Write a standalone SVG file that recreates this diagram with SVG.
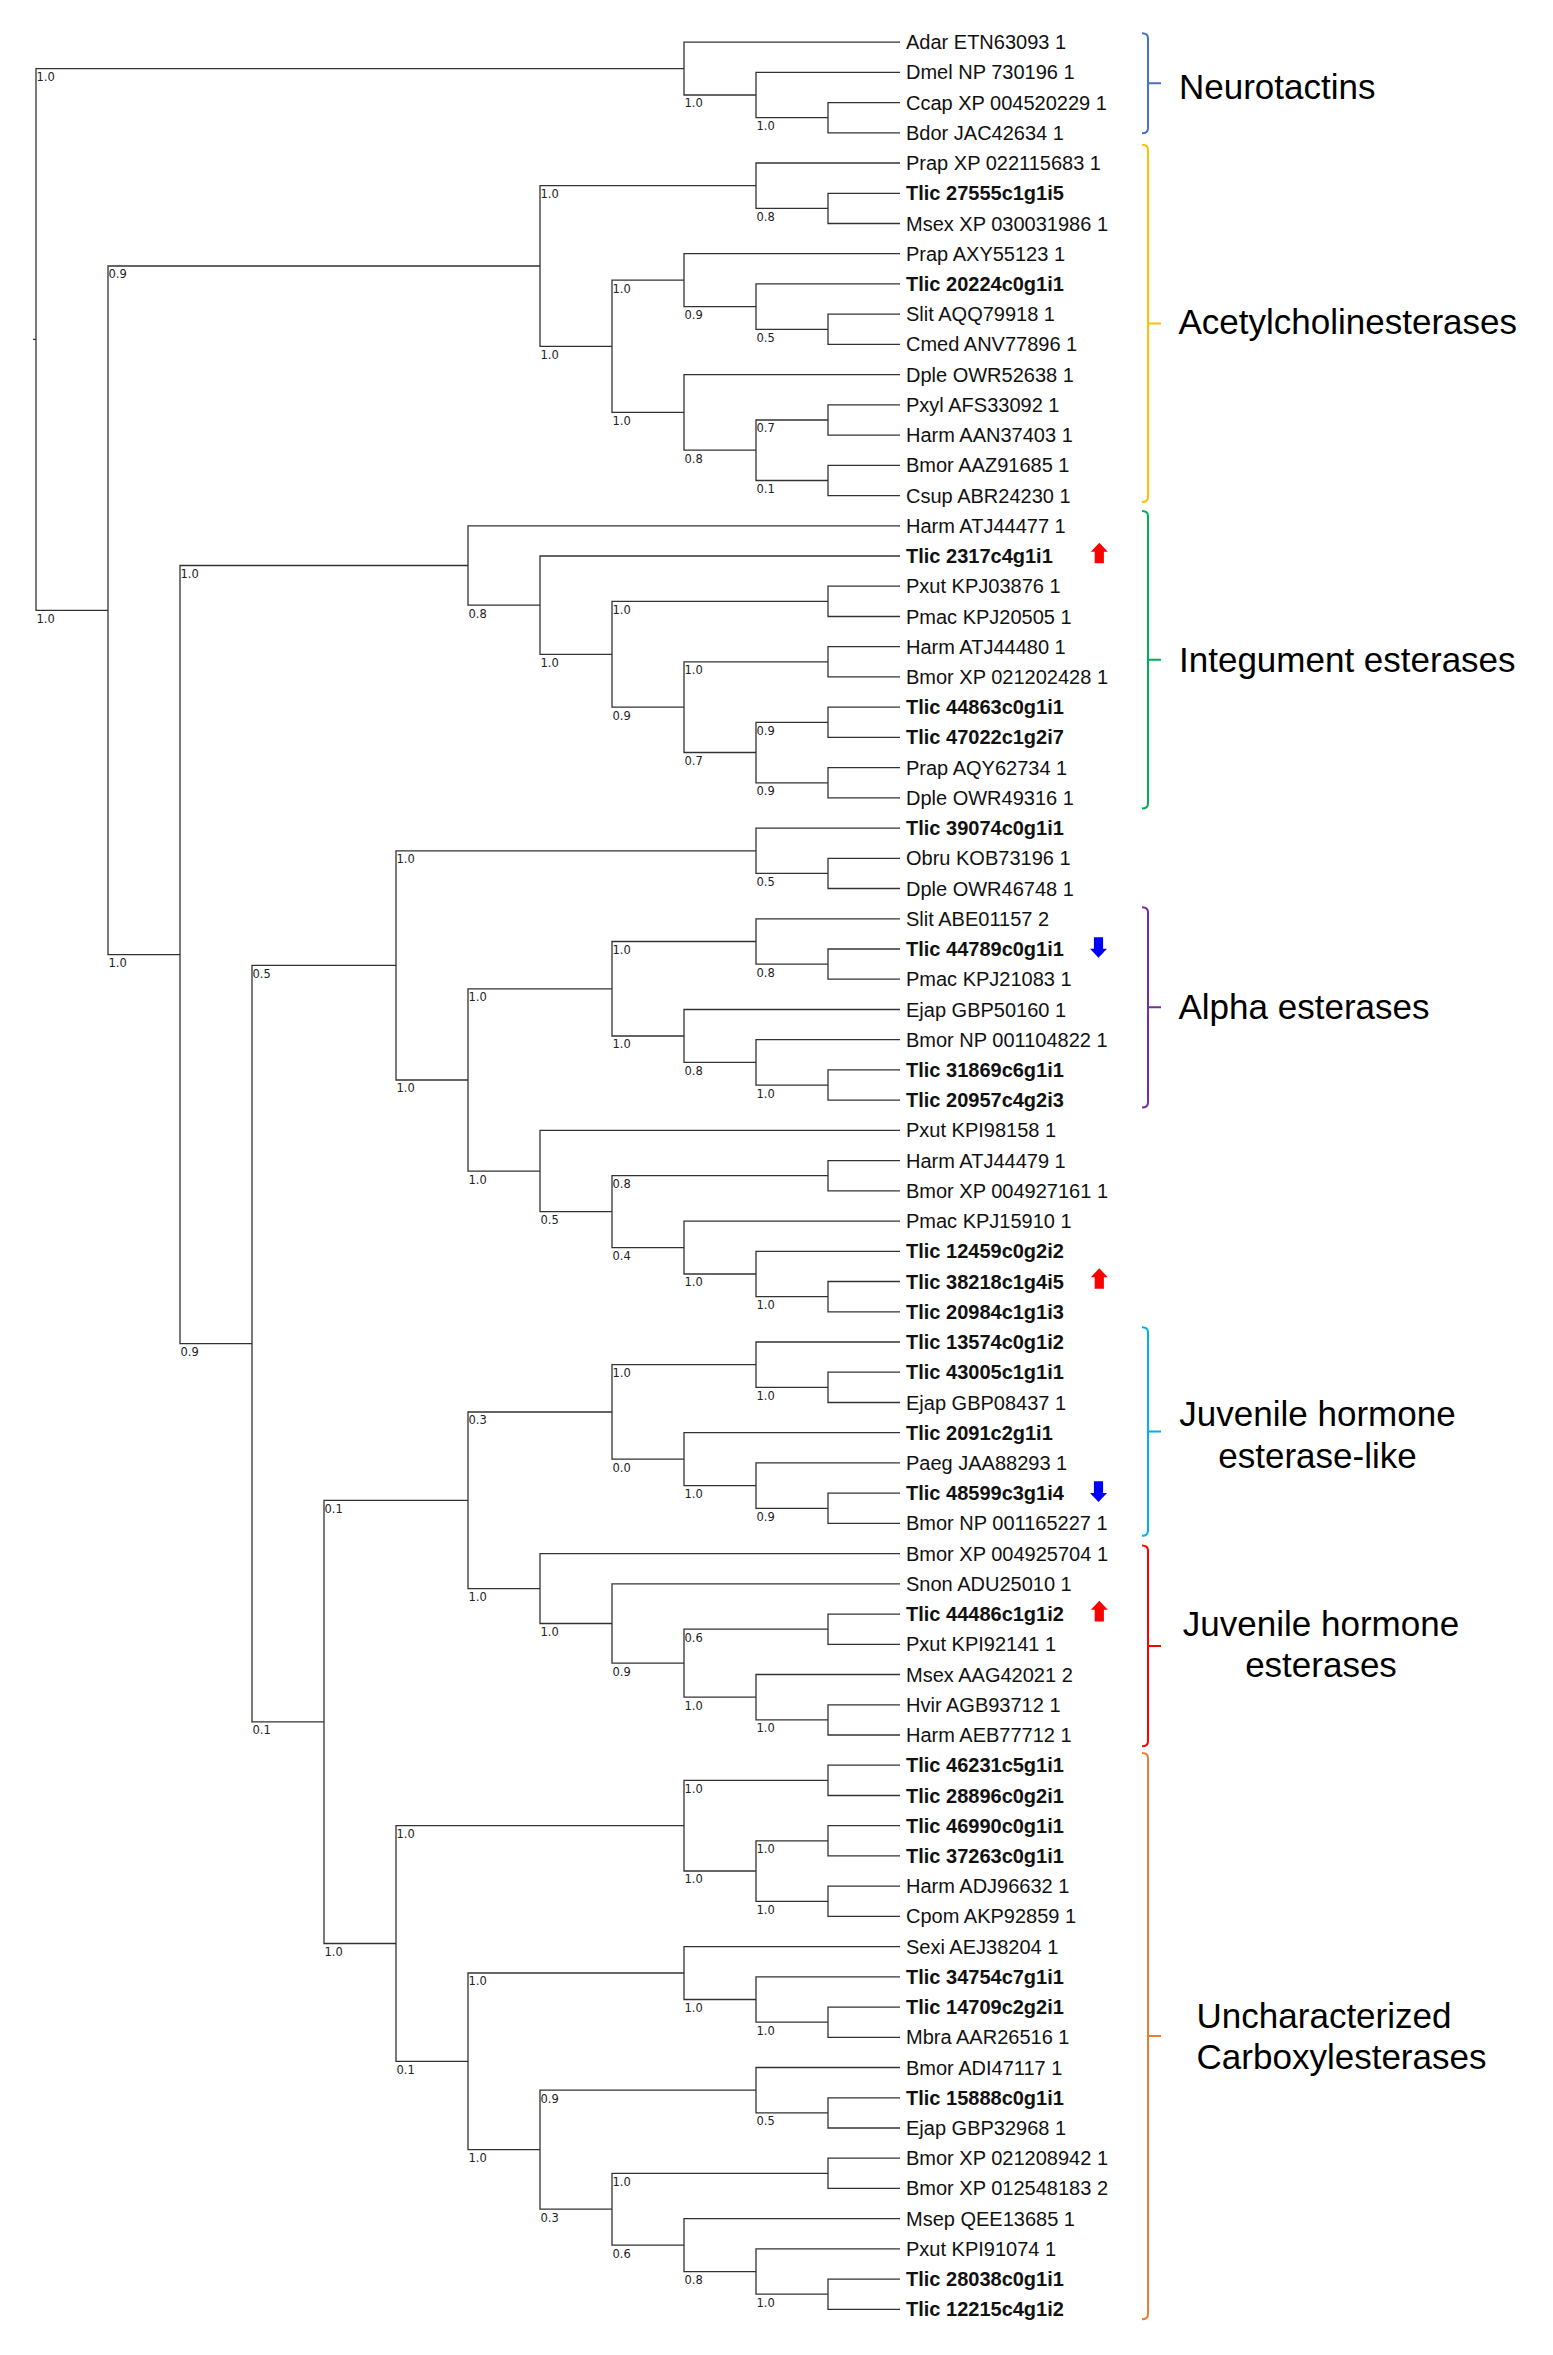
<svg xmlns="http://www.w3.org/2000/svg" xmlns:xlink="http://www.w3.org/1999/xlink" width="1553" height="2355" viewBox="0 0 1553 2355">
<style>
.br{fill:none;stroke:#333;stroke-width:1.3}
.lf{font-family:"Liberation Sans",Arial,sans-serif;font-size:20px;fill:#111}
.b{font-weight:bold}
.sv{font-family:"DejaVu Sans",Verdana,sans-serif;font-size:11.5px;fill:#222}
.cl{font-family:"Liberation Sans",Arial,sans-serif;font-size:35px;fill:#000}
.mid{text-anchor:middle}
.bk{fill:none;stroke-width:2}
.up{fill:#ff0000}
.dn{fill:#0000ff}
</style>
<defs>
<path id="arrow" d="M0,-10.3 L8.5,-1.3 L4.6,-1.3 L4.6,10.3 L-4.6,10.3 L-4.6,-1.3 L-8.5,-1.3 Z"/>
</defs>
<rect width="1553" height="2355" fill="#fff"/>

<g id="connectors" class="br">
<path d="M33 339.4H36"/>
<path d="M684 68.6H36V610.3H108"/>
<path d="M900 42.1H684V95H756"/>
<path d="M900 72.3H756V117.7H828"/>
<path d="M900 102.6H828V132.8H900"/>
<path d="M540 266H108V954.6H180"/>
<path d="M756 185.7H540V346.3H612"/>
<path d="M900 163H756V208.4H828"/>
<path d="M900 193.3H828V223.5H900"/>
<path d="M684 280.2H612V412.4H684"/>
<path d="M900 253.7H684V306.6H756"/>
<path d="M900 283.9H756V329.3H828"/>
<path d="M900 314.2H828V344.4H900"/>
<path d="M900 374.6H684V450.2H756"/>
<path d="M828 420H756V480.5H828"/>
<path d="M900 404.9H828V435.1H900"/>
<path d="M900 465.3H828V495.6H900"/>
<path d="M468 565.5H180V1343.7H252"/>
<path d="M900 525.8H468V605.2H540"/>
<path d="M900 556H540V654.3H612"/>
<path d="M828 601.4H612V707.2H684"/>
<path d="M900 586.2H828V616.5H900"/>
<path d="M828 661.8H684V752.5H756"/>
<path d="M900 646.7H828V676.9H900"/>
<path d="M828 722.3H756V782.8H828"/>
<path d="M900 707.2H828V737.4H900"/>
<path d="M900 767.6H828V797.9H900"/>
<path d="M396 965.4H252V1721.9H324"/>
<path d="M756 850.8H396V1080H468"/>
<path d="M900 828.1H756V873.4H828"/>
<path d="M900 858.3H828V888.5H900"/>
<path d="M612 988.8H468V1171.1H540"/>
<path d="M756 941.5H612V1036H684"/>
<path d="M900 918.8H756V964.1H828"/>
<path d="M900 949H828V979.2H900"/>
<path d="M900 1009.5H684V1062.4H756"/>
<path d="M900 1039.7H756V1085.1H828"/>
<path d="M900 1069.9H828V1100.2H900"/>
<path d="M900 1130.4H540V1211.7H612"/>
<path d="M828 1175.7H612V1247.6H684"/>
<path d="M900 1160.6H828V1190.8H900"/>
<path d="M900 1221.1H684V1274H756"/>
<path d="M900 1251.3H756V1296.7H828"/>
<path d="M900 1281.5H828V1311.8H900"/>
<path d="M468 1500.3H324V1943.5H396"/>
<path d="M612 1412H468V1588.6H540"/>
<path d="M756 1364.7H612V1459.2H684"/>
<path d="M900 1342H756V1387.4H828"/>
<path d="M900 1372.2H828V1402.5H900"/>
<path d="M900 1432.7H684V1485.6H756"/>
<path d="M900 1462.9H756V1508.3H828"/>
<path d="M900 1493.1H828V1523.4H900"/>
<path d="M900 1553.6H540V1623.5H612"/>
<path d="M900 1583.8H612V1663.2H684"/>
<path d="M828 1629.2H684V1697.2H756"/>
<path d="M900 1614.1H828V1644.3H900"/>
<path d="M900 1674.5H756V1719.9H828"/>
<path d="M900 1704.8H828V1735H900"/>
<path d="M684 1825.7H396V2061.3H468"/>
<path d="M828 1780.4H684V1871H756"/>
<path d="M900 1765.2H828V1795.5H900"/>
<path d="M828 1840.8H756V1901.3H828"/>
<path d="M900 1825.7H828V1855.9H900"/>
<path d="M900 1886.1H828V1916.4H900"/>
<path d="M684 1973H468V2149.7H540"/>
<path d="M900 1946.6H684V1999.5H756"/>
<path d="M900 1976.8H756V2022.2H828"/>
<path d="M900 2007.1H828V2037.3H900"/>
<path d="M756 2090.2H540V2209.2H612"/>
<path d="M900 2067.5H756V2112.9H828"/>
<path d="M900 2097.8H828V2128H900"/>
<path d="M828 2173.3H612V2245.1H684"/>
<path d="M900 2158.2H828V2188.4H900"/>
<path d="M900 2218.7H684V2271.6H756"/>
<path d="M900 2248.9H756V2294.2H828"/>
<path d="M900 2279.1H828V2309.4H900"/>
</g>

<g id="support-values" class="sv">
<text x="36.5" y="81">1.0</text>
<text x="36.5" y="622.7">1.0</text>
<text x="684.5" y="107.4">1.0</text>
<text x="756.5" y="130.1">1.0</text>
<text x="108.5" y="278.4">0.9</text>
<text x="108.5" y="967">1.0</text>
<text x="540.5" y="198.1">1.0</text>
<text x="540.5" y="358.7">1.0</text>
<text x="756.5" y="220.8">0.8</text>
<text x="612.5" y="292.6">1.0</text>
<text x="612.5" y="424.8">1.0</text>
<text x="684.5" y="319">0.9</text>
<text x="756.5" y="341.7">0.5</text>
<text x="684.5" y="462.6">0.8</text>
<text x="756.5" y="432.4">0.7</text>
<text x="756.5" y="492.9">0.1</text>
<text x="180.5" y="577.9">1.0</text>
<text x="180.5" y="1356.1">0.9</text>
<text x="468.5" y="617.6">0.8</text>
<text x="540.5" y="666.7">1.0</text>
<text x="612.5" y="613.8">1.0</text>
<text x="612.5" y="719.6">0.9</text>
<text x="684.5" y="674.2">1.0</text>
<text x="684.5" y="764.9">0.7</text>
<text x="756.5" y="734.7">0.9</text>
<text x="756.5" y="795.2">0.9</text>
<text x="252.5" y="977.8">0.5</text>
<text x="252.5" y="1734.3">0.1</text>
<text x="396.5" y="863.2">1.0</text>
<text x="396.5" y="1092.4">1.0</text>
<text x="756.5" y="885.8">0.5</text>
<text x="468.5" y="1001.2">1.0</text>
<text x="468.5" y="1183.5">1.0</text>
<text x="612.5" y="953.9">1.0</text>
<text x="612.5" y="1048.4">1.0</text>
<text x="756.5" y="976.5">0.8</text>
<text x="684.5" y="1074.8">0.8</text>
<text x="756.5" y="1097.5">1.0</text>
<text x="540.5" y="1224.1">0.5</text>
<text x="612.5" y="1188.1">0.8</text>
<text x="612.5" y="1260">0.4</text>
<text x="684.5" y="1286.4">1.0</text>
<text x="756.5" y="1309.1">1.0</text>
<text x="324.5" y="1512.7">0.1</text>
<text x="324.5" y="1955.9">1.0</text>
<text x="468.5" y="1424.4">0.3</text>
<text x="468.5" y="1601">1.0</text>
<text x="612.5" y="1377.1">1.0</text>
<text x="612.5" y="1471.6">0.0</text>
<text x="756.5" y="1399.8">1.0</text>
<text x="684.5" y="1498">1.0</text>
<text x="756.5" y="1520.7">0.9</text>
<text x="540.5" y="1635.9">1.0</text>
<text x="612.5" y="1675.6">0.9</text>
<text x="684.5" y="1641.6">0.6</text>
<text x="684.5" y="1709.6">1.0</text>
<text x="756.5" y="1732.3">1.0</text>
<text x="396.5" y="1838.1">1.0</text>
<text x="396.5" y="2073.7">0.1</text>
<text x="684.5" y="1792.8">1.0</text>
<text x="684.5" y="1883.4">1.0</text>
<text x="756.5" y="1853.2">1.0</text>
<text x="756.5" y="1913.7">1.0</text>
<text x="468.5" y="1985.4">1.0</text>
<text x="468.5" y="2162.1">1.0</text>
<text x="684.5" y="2011.9">1.0</text>
<text x="756.5" y="2034.6">1.0</text>
<text x="540.5" y="2102.6">0.9</text>
<text x="540.5" y="2221.6">0.3</text>
<text x="756.5" y="2125.3">0.5</text>
<text x="612.5" y="2185.7">1.0</text>
<text x="612.5" y="2257.5">0.6</text>
<text x="684.5" y="2284">0.8</text>
<text x="756.5" y="2306.6">1.0</text>
</g>

<g id="leaves" class="lf">
<g id="leaf-01"><text x="906" y="49.1">Adar ETN63093 1</text></g>
<g id="leaf-02"><text x="906" y="79.3">Dmel NP 730196 1</text></g>
<g id="leaf-03"><text x="906" y="109.6">Ccap XP 004520229 1</text></g>
<g id="leaf-04"><text x="906" y="139.8">Bdor JAC42634 1</text></g>
<g id="leaf-05"><text x="906" y="170">Prap XP 022115683 1</text></g>
<g id="leaf-06"><text x="906" y="200.3" class="b">Tlic 27555c1g1i5</text></g>
<g id="leaf-07"><text x="906" y="230.5">Msex XP 030031986 1</text></g>
<g id="leaf-08"><text x="906" y="260.7">Prap AXY55123 1</text></g>
<g id="leaf-09"><text x="906" y="290.9" class="b">Tlic 20224c0g1i1</text></g>
<g id="leaf-10"><text x="906" y="321.2">Slit AQQ79918 1</text></g>
<g id="leaf-11"><text x="906" y="351.4">Cmed ANV77896 1</text></g>
<g id="leaf-12"><text x="906" y="381.6">Dple OWR52638 1</text></g>
<g id="leaf-13"><text x="906" y="411.9">Pxyl AFS33092 1</text></g>
<g id="leaf-14"><text x="906" y="442.1">Harm AAN37403 1</text></g>
<g id="leaf-15"><text x="906" y="472.3">Bmor AAZ91685 1</text></g>
<g id="leaf-16"><text x="906" y="502.6">Csup ABR24230 1</text></g>
<g id="leaf-17"><text x="906" y="532.8">Harm ATJ44477 1</text></g>
<g id="leaf-18"><text x="906" y="563" class="b">Tlic 2317c4g1i1</text><use xlink:href="#arrow" href="#arrow" class="up" transform="translate(1099.3 553)"/></g>
<g id="leaf-19"><text x="906" y="593.2">Pxut KPJ03876 1</text></g>
<g id="leaf-20"><text x="906" y="623.5">Pmac KPJ20505 1</text></g>
<g id="leaf-21"><text x="906" y="653.7">Harm ATJ44480 1</text></g>
<g id="leaf-22"><text x="906" y="683.9">Bmor XP 021202428 1</text></g>
<g id="leaf-23"><text x="906" y="714.2" class="b">Tlic 44863c0g1i1</text></g>
<g id="leaf-24"><text x="906" y="744.4" class="b">Tlic 47022c1g2i7</text></g>
<g id="leaf-25"><text x="906" y="774.6">Prap AQY62734 1</text></g>
<g id="leaf-26"><text x="906" y="804.9">Dple OWR49316 1</text></g>
<g id="leaf-27"><text x="906" y="835.1" class="b">Tlic 39074c0g1i1</text></g>
<g id="leaf-28"><text x="906" y="865.3">Obru KOB73196 1</text></g>
<g id="leaf-29"><text x="906" y="895.5">Dple OWR46748 1</text></g>
<g id="leaf-30"><text x="906" y="925.8">Slit ABE01157 2</text></g>
<g id="leaf-31"><text x="906" y="956" class="b">Tlic 44789c0g1i1</text><use xlink:href="#arrow" href="#arrow" class="dn" transform="translate(1098.5 947.5) rotate(180)"/></g>
<g id="leaf-32"><text x="906" y="986.2">Pmac KPJ21083 1</text></g>
<g id="leaf-33"><text x="906" y="1016.5">Ejap GBP50160 1</text></g>
<g id="leaf-34"><text x="906" y="1046.7">Bmor NP 001104822 1</text></g>
<g id="leaf-35"><text x="906" y="1076.9" class="b">Tlic 31869c6g1i1</text></g>
<g id="leaf-36"><text x="906" y="1107.2" class="b">Tlic 20957c4g2i3</text></g>
<g id="leaf-37"><text x="906" y="1137.4">Pxut KPI98158 1</text></g>
<g id="leaf-38"><text x="906" y="1167.6">Harm ATJ44479 1</text></g>
<g id="leaf-39"><text x="906" y="1197.8">Bmor XP 004927161 1</text></g>
<g id="leaf-40"><text x="906" y="1228.1">Pmac KPJ15910 1</text></g>
<g id="leaf-41"><text x="906" y="1258.3" class="b">Tlic 12459c0g2i2</text></g>
<g id="leaf-42"><text x="906" y="1288.5" class="b">Tlic 38218c1g4i5</text><use xlink:href="#arrow" href="#arrow" class="up" transform="translate(1099.3 1278.5)"/></g>
<g id="leaf-43"><text x="906" y="1318.8" class="b">Tlic 20984c1g1i3</text></g>
<g id="leaf-44"><text x="906" y="1349" class="b">Tlic 13574c0g1i2</text></g>
<g id="leaf-45"><text x="906" y="1379.2" class="b">Tlic 43005c1g1i1</text></g>
<g id="leaf-46"><text x="906" y="1409.5">Ejap GBP08437 1</text></g>
<g id="leaf-47"><text x="906" y="1439.7" class="b">Tlic 2091c2g1i1</text></g>
<g id="leaf-48"><text x="906" y="1469.9">Paeg JAA88293 1</text></g>
<g id="leaf-49"><text x="906" y="1500.1" class="b">Tlic 48599c3g1i4</text><use xlink:href="#arrow" href="#arrow" class="dn" transform="translate(1098.5 1491.6) rotate(180)"/></g>
<g id="leaf-50"><text x="906" y="1530.4">Bmor NP 001165227 1</text></g>
<g id="leaf-51"><text x="906" y="1560.6">Bmor XP 004925704 1</text></g>
<g id="leaf-52"><text x="906" y="1590.8">Snon ADU25010 1</text></g>
<g id="leaf-53"><text x="906" y="1621.1" class="b">Tlic 44486c1g1i2</text><use xlink:href="#arrow" href="#arrow" class="up" transform="translate(1099.3 1611.1)"/></g>
<g id="leaf-54"><text x="906" y="1651.3">Pxut KPI92141 1</text></g>
<g id="leaf-55"><text x="906" y="1681.5">Msex AAG42021 2</text></g>
<g id="leaf-56"><text x="906" y="1711.8">Hvir AGB93712 1</text></g>
<g id="leaf-57"><text x="906" y="1742">Harm AEB77712 1</text></g>
<g id="leaf-58"><text x="906" y="1772.2" class="b">Tlic 46231c5g1i1</text></g>
<g id="leaf-59"><text x="906" y="1802.5" class="b">Tlic 28896c0g2i1</text></g>
<g id="leaf-60"><text x="906" y="1832.7" class="b">Tlic 46990c0g1i1</text></g>
<g id="leaf-61"><text x="906" y="1862.9" class="b">Tlic 37263c0g1i1</text></g>
<g id="leaf-62"><text x="906" y="1893.1">Harm ADJ96632 1</text></g>
<g id="leaf-63"><text x="906" y="1923.4">Cpom AKP92859 1</text></g>
<g id="leaf-64"><text x="906" y="1953.6">Sexi AEJ38204 1</text></g>
<g id="leaf-65"><text x="906" y="1983.8" class="b">Tlic 34754c7g1i1</text></g>
<g id="leaf-66"><text x="906" y="2014.1" class="b">Tlic 14709c2g2i1</text></g>
<g id="leaf-67"><text x="906" y="2044.3">Mbra AAR26516 1</text></g>
<g id="leaf-68"><text x="906" y="2074.5">Bmor ADI47117 1</text></g>
<g id="leaf-69"><text x="906" y="2104.8" class="b">Tlic 15888c0g1i1</text></g>
<g id="leaf-70"><text x="906" y="2135">Ejap GBP32968 1</text></g>
<g id="leaf-71"><text x="906" y="2165.2">Bmor XP 021208942 1</text></g>
<g id="leaf-72"><text x="906" y="2195.4">Bmor XP 012548183 2</text></g>
<g id="leaf-73"><text x="906" y="2225.7">Msep QEE13685 1</text></g>
<g id="leaf-74"><text x="906" y="2255.9">Pxut KPI91074 1</text></g>
<g id="leaf-75"><text x="906" y="2286.1" class="b">Tlic 28038c0g1i1</text></g>
<g id="leaf-76"><text x="906" y="2316.4" class="b">Tlic 12215c4g1i2</text></g>
</g>

<g id="clade-neurotactins">
<path class="bk" stroke="#4472c4" d="M1142 33.3Q1148 33.3 1148 38.3V128.3Q1148 133.3 1142 133.3M1148 83.3H1161"/>
<text class="cl" x="1179" y="99">Neurotactins</text>
</g>
<g id="clade-acetylcholinesterases">
<path class="bk" stroke="#ffc000" d="M1142 144.7Q1148 144.7 1148 149.7V497Q1148 502 1142 502M1148 323.4H1161"/>
<text class="cl" x="1178.5" y="334">Acetylcholinesterases</text>
</g>
<g id="clade-integument">
<path class="bk" stroke="#00b050" d="M1142 510.9Q1148 510.9 1148 515.9V803.5Q1148 808.5 1142 808.5M1148 659.7H1161"/>
<text class="cl" x="1179" y="672">Integument esterases</text>
</g>
<g id="clade-alpha">
<path class="bk" stroke="#7030a0" d="M1142 907.2Q1148 907.2 1148 912.2V1102.4Q1148 1107.4 1142 1107.4M1148 1007.3H1161"/>
<text class="cl" x="1178.5" y="1019.3">Alpha esterases</text>
</g>
<g id="clade-jhe-like">
<path class="bk" stroke="#00b0f0" d="M1142 1327.2Q1148 1327.2 1148 1332.2V1530.8Q1148 1535.8 1142 1535.8M1148 1431.5H1161"/>
<text class="cl mid" x="1317.5" y="1426">Juvenile hormone</text>
<text class="cl mid" x="1317.5" y="1468">esterase-like</text>
</g>
<g id="clade-jhe">
<path class="bk" stroke="#ff0000" d="M1142 1545.4Q1148 1545.4 1148 1550.4V1741.3Q1148 1746.3 1142 1746.3M1148 1645.9H1161"/>
<text class="cl mid" x="1321" y="1636">Juvenile hormone</text>
<text class="cl mid" x="1321" y="1677.4">esterases</text>
</g>
<g id="clade-uncharacterized">
<path class="bk" stroke="#ed7d31" d="M1142 1752.9Q1148 1752.9 1148 1757.9V2314.3Q1148 2319.3 1142 2319.3M1148 2036.1H1161"/>
<text class="cl" x="1196.6" y="2028.3">Uncharacterized</text>
<text class="cl" x="1196.6" y="2069.4">Carboxylesterases</text>
</g>
</svg>
